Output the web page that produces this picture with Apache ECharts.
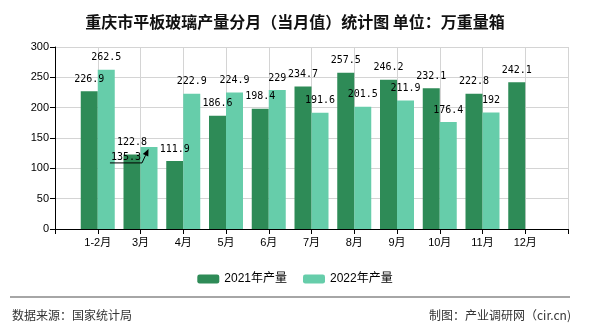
<!DOCTYPE html>
<html>
<head>
<meta charset="utf-8">
<script src="https://cdn.jsdelivr.net/npm/echarts@6/dist/echarts.min.js"></script>
<style>
html,body{margin:0;padding:0;background:#fff;}
#chart{width:590px;height:330px;}
</style>
</head>
<body>
<div id="chart"></div>
<script>
var titleText = '重庆市平板玻璃产量分月（当月值）统计图 单位：万重量箱';
var months = ['1-2月','3月','4月','5月','6月','7月','8月','9月','10月','11月','12月'];
var values2021 = [226.9,122.8,111.9,186.6,198.4,234.7,257.5,246.2,232.1,222.8,242.1];
var values2022 = [262.5,135.3,222.9,224.9,229,191.6,201.5,211.9,176.4,192];
var seriesNames = ['2021年产量','2022年产量'];
var yTicks = {min:0, max:300, interval:50};
var sourceText = '数据来源：国家统计局';
var creditText = '制图：产业调研网（cir.cn)';

// pad categories so that the axis extends half a step beyond the first and last month
var categories = [''].concat(months).concat([' ']);
function pad(vals){
  var out = ['-'].concat(vals);
  while (out.length < categories.length) out.push('-');
  return out;
}
var moveIdx = categories.indexOf('3月');
var captured = null;
var MOVE_DX = -23, MOVE_DY = 22;

var chart = echarts.init(document.getElementById('chart'), null, {renderer:'canvas'});
var labelFont = {fontFamily:'DejaVu Sans Mono', fontSize:10, color:'#000'};
var option = {
  animation:false,
  backgroundColor:'#fff',
  title:{
    text:titleText, left:'center', top:9,
    textStyle:{fontFamily:'Noto Sans CJK SC', fontSize:16, fontWeight:'bold', color:'#111'}
  },
  legend:{
    data:seriesNames, bottom:40, left:'center',
    itemWidth:22, itemHeight:9, itemGap:16,
    textStyle:{fontFamily:'Liberation Sans, Noto Sans CJK SC', fontSize:12, color:'#000'}
  },
  grid:{left:55, right:22, top:47, bottom:101},
  xAxis:{
    type:'category', data:categories, boundaryGap:false,
    axisLine:{lineStyle:{color:'#000'}},
    axisTick:{show:true, interval:0, length:5, lineStyle:{color:'#000'}},
    axisLabel:{interval:0, margin:8, fontFamily:'Liberation Sans, Noto Sans CJK SC', fontSize:11, color:'#000'},
    splitLine:{show:true, interval:0, lineStyle:{color:'#d4d4d4'}}
  },
  yAxis:{
    type:'value', min:yTicks.min, max:yTicks.max, interval:yTicks.interval,
    axisLine:{show:true, lineStyle:{color:'#000'}},
    axisTick:{show:true, length:5, lineStyle:{color:'#000'}},
    axisLabel:{margin:6, fontFamily:'Liberation Sans', fontSize:11, color:'#000'},
    splitLine:{show:true, lineStyle:{color:'#d4d4d4'}}
  },
  series:[
    {
      name:seriesNames[0], type:'bar', data:pad(values2021), barWidth:17, barGap:'0%',
      itemStyle:{color:'#2e8b57'},
      label:Object.assign({show:true, position:'top', distance:7}, labelFont)
    },
    {
      name:seriesNames[1], type:'bar', data:pad(values2022), barWidth:17, barGap:'0%',
      itemStyle:{color:'#66cdaa'},
      label:Object.assign({show:true, position:'top', distance:7}, labelFont),
      labelLayout:function(p){
        if (p.dataIndex === moveIdx) {
          captured = {rect:p.rect, label:p.labelRect};
          return {dx:MOVE_DX, dy:MOVE_DY};
        }
        return {};
      }
    }
  ],
  graphic:[
    {type:'line', shape:{x1:10, y1:297, x2:570, y2:297}, style:{stroke:'#888', lineWidth:1.5}},
    {type:'text', left:12, top:309, style:{text:sourceText, fontFamily:'Noto Sans CJK SC', fontSize:12, fill:'#333'}},
    {type:'text', right:19, top:309, style:{text:creditText, fontFamily:'Noto Sans CJK SC', fontSize:12, fill:'#333'}}
  ]
};
chart.setOption(option);

if (captured) {
  var r = captured.rect, l = captured.label;
  var lx = l.x + MOVE_DX, by = l.y + MOVE_DY + l.height + 1;
  var p0 = [lx - 1, by], p1 = [r.x + 1.5, by], p2 = [r.x + 8, r.y + 2];
  var vx = p2[0]-p1[0], vy = p2[1]-p1[1], len = Math.sqrt(vx*vx+vy*vy);
  var ux = vx/len, uy = vy/len, hl = 7, hw = 3;
  var base = [p2[0]-ux*hl, p2[1]-uy*hl];
  var head = [[p2[0],p2[1]],[base[0]-uy*hw, base[1]+ux*hw],[base[0]+uy*hw, base[1]-ux*hw]];
  var g = option.graphic.slice();
  g.push({type:'polyline', z:100, shape:{points:[p0,p1,base]}, style:{stroke:'#000', lineWidth:1, fill:null}});
  g.push({type:'polygon', z:100, shape:{points:head}, style:{fill:'#000'}});
  chart.setOption({graphic:g}, {replaceMerge:['graphic']});
}
</script>
</body>
</html>
